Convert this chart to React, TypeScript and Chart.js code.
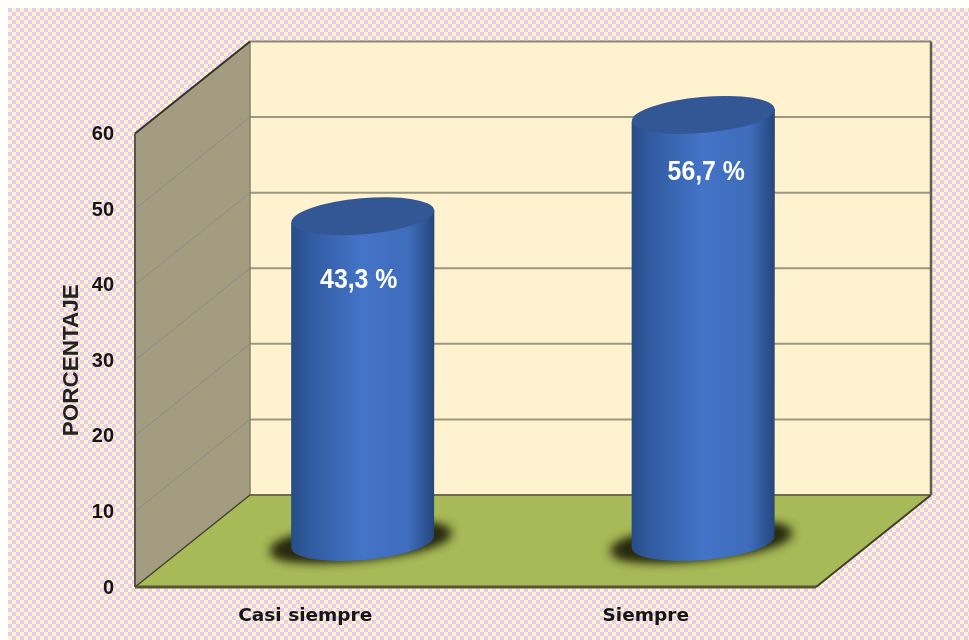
import React, { useEffect, useRef } from "react";
import { Chart, registerables } from "chart.js";

Chart.register(...registerables);

const categories = ["Casi siempre", "Siempre"];
const porcentaje = [43.3, 56.7];
const valueLabels = ["43,3 %", "56,7 %"];
const yMax = 60;
const yStep = 10;
const axisTitle = "PORCENTAJE";

const DEPTH_X = 115;
const DEPTH_Y = -92;
const LABEL_NUDGE = [
  [-4, 67],
  [3, 60],
];

function checker(ctx: CanvasRenderingContext2D) {
  const c = document.createElement("canvas");
  const s = 4;
  c.width = s * 2;
  c.height = s * 2;
  const g = c.getContext("2d")!;
  g.fillStyle = "#FFF4CC";
  g.fillRect(0, 0, s * 2, s * 2);
  g.fillStyle = "#E6CCEE";
  g.fillRect(0, 0, s, s);
  g.fillRect(s, s, s, s);
  return ctx.createPattern(c, "repeat")!;
}

function poly(ctx: CanvasRenderingContext2D, pts: number[][], fill: string) {
  ctx.beginPath();
  pts.forEach((p, i) => (i ? ctx.lineTo(p[0], p[1]) : ctx.moveTo(p[0], p[1])));
  ctx.closePath();
  ctx.fillStyle = fill;
  ctx.fill();
}

function seg(ctx: CanvasRenderingContext2D, a: number[], b: number[], color: string, w: number) {
  ctx.beginPath();
  ctx.moveTo(a[0], a[1]);
  ctx.lineTo(b[0], b[1]);
  ctx.strokeStyle = color;
  ctx.lineWidth = w;
  ctx.stroke();
}

const scenePlugin = {
  id: "scene3d",
  beforeDraw(chart: any) {
    const { ctx, chartArea: a, scales } = chart;
    const y = scales.y;
    ctx.save();
    ctx.fillStyle = checker(ctx);
    ctx.fillRect(0, 0, chart.width, chart.height);

    const { left: l, right: r, top: t, bottom: b } = a;
    const dx = DEPTH_X;
    const dy = DEPTH_Y;
    poly(ctx, [[l + dx, t + dy], [r + dx, t + dy], [r + dx, b + dy], [l + dx, b + dy]], "#FFF2CE");
    poly(ctx, [[l, t], [l + dx, t + dy], [l + dx, b + dy], [l, b]], "#A49C81");
    poly(ctx, [[l, b], [l + dx, b + dy], [r + dx, b + dy], [r, b]], "#A8B957");

    for (let v = yStep; v < yMax; v += yStep) {
      const py = y.getPixelForValue(v);
      seg(ctx, [l, py], [l + dx, py + dy], "#8C8D8A", 1);
      seg(ctx, [l + dx, py + dy], [r + dx, py + dy], "#9A9882", 2);
    }
    seg(ctx, [l + dx, t + dy], [r + dx, t + dy], "#8A887A", 2);
    seg(ctx, [r + dx, t + dy], [r + dx, b + dy], "#5F5E50", 2.5);
    seg(ctx, [l + dx, t + dy], [l + dx, b + dy], "#86826E", 1.5);
    seg(ctx, [l + dx, b + dy], [r + dx, b + dy], "#6D6C50", 2);
    seg(ctx, [l, t], [l + dx, t + dy], "#333328", 2);
    seg(ctx, [l, t], [l, b], "#55544A", 2);
    seg(ctx, [l, b], [l + dx, b + dy], "#3F4028", 1.5);
    seg(ctx, [r, b], [r + dx, b + dy], "#3F4028", 2);
    seg(ctx, [l, b], [r, b], "#55552F", 3);
    ctx.restore();
  },
  afterDatasetsDraw(chart: any) {
    const { ctx } = chart;
    const meta = chart.getDatasetMeta(0);
    const rot = (-5 * Math.PI) / 180;
    meta.data.forEach((bar: any, i: number) => {
      const cx = bar.x + DEPTH_X / 2;
      const topY = bar.y + DEPTH_Y / 2 + 2.5;
      const baseY = bar.base + DEPTH_Y / 2 + 1;
      const rx = bar.width / 2;
      const ry = 18;
      const tiltY = Math.sin(rot) * rx;

      ctx.save();
      ctx.save();
      ctx.shadowColor = "rgba(40,42,14,1)";
      ctx.shadowBlur = 11;
      ctx.shadowOffsetX = 3000;
      ctx.fillStyle = "#000";
      for (let pass = 0; pass < 2; pass++) {
        ctx.beginPath();
        ctx.ellipse(cx - 2 - 3000, baseY, rx + 18, ry - 2, (-6 * Math.PI) / 180, 0, Math.PI * 2);
        ctx.fill();
      }
      ctx.restore();

      const grad = ctx.createLinearGradient(cx - rx, 0, cx + rx, 0);
      grad.addColorStop(0, "#274D85");
      grad.addColorStop(0.12, "#305A9F");
      grad.addColorStop(0.5, "#4474C8");
      grad.addColorStop(0.82, "#3F6CBB");
      grad.addColorStop(0.95, "#2C5190");
      grad.addColorStop(1, "#264676");
      ctx.beginPath();
      ctx.moveTo(cx - rx, topY - tiltY);
      ctx.lineTo(cx - rx, baseY - tiltY);
      ctx.ellipse(cx, baseY, rx, ry, rot, Math.PI, 0, true);
      ctx.lineTo(cx + rx, topY + tiltY);
      ctx.closePath();
      ctx.fillStyle = grad;
      ctx.fill();

      ctx.beginPath();
      ctx.ellipse(cx, topY, rx, ry, rot, 0, Math.PI * 2);
      ctx.fillStyle = "#325794";
      ctx.fill();

      ctx.font = "bold 27px 'Liberation Sans'";
      ctx.textAlign = "center";
      ctx.textBaseline = "middle";
      ctx.fillStyle = "#FFFFFF";
      ctx.translate(cx + LABEL_NUDGE[i][0], bar.y + DEPTH_Y / 2 + LABEL_NUDGE[i][1]);
      ctx.scale(0.92, 1);
      ctx.fillText(valueLabels[i], 0, 0);
      ctx.restore();
    });
  },
};

export default function App() {
  const ref = useRef<HTMLCanvasElement>(null);
  useEffect(() => {
    const chart = new Chart(ref.current!, {
      type: "bar",
      data: {
        labels: categories,
        datasets: [
          {
            label: axisTitle,
            data: porcentaje,
            backgroundColor: "rgba(0,0,0,0)",
            borderWidth: 0,
            barPercentage: 143 / 340,
            categoryPercentage: 1,
          },
        ],
      },
      options: {
        animation: false,
        responsive: false,
        devicePixelRatio: 1,
        layout: { padding: { left: 0, top: 125.5, right: 153, bottom: 0 } },
        plugins: { legend: { display: false }, tooltip: { enabled: false } },
        scales: {
          x: {
            grid: { display: false },
            border: { display: false },
            ticks: {
              padding: 10,
              maxRotation: 0,
              color: "#151515",
              font: { family: "'DejaVu Sans'", weight: "bold", size: 18.5 },
            },
            afterFit: (s: any) => {
              s.height = 53;
            },
          },
          y: {
            min: 0,
            max: yMax,
            grid: { display: false },
            border: { display: false },
            ticks: {
              stepSize: yStep,
              padding: 13,
              labelOffset: 1,
              color: "#151515",
              font: { family: "'Liberation Sans'", weight: "bold", size: 20 },
            },
            title: {
              display: true,
              text: axisTitle,
              color: "#222222",
              padding: { top: 50, bottom: 0 },
              font: { family: "'Liberation Sans'", weight: "bold", size: 22.5 },
            },
            afterFit: (s: any) => {
              s.width = 127;
            },
          },
        },
      },
      plugins: [scenePlugin],
    } as any);
    return () => chart.destroy();
  }, []);
  return (
    <canvas
      ref={ref}
      width={961}
      height={632}
      style={{ position: "absolute", left: 8, top: 8, display: "block", filter: "blur(0.6px)" }}
    />
  );
}
